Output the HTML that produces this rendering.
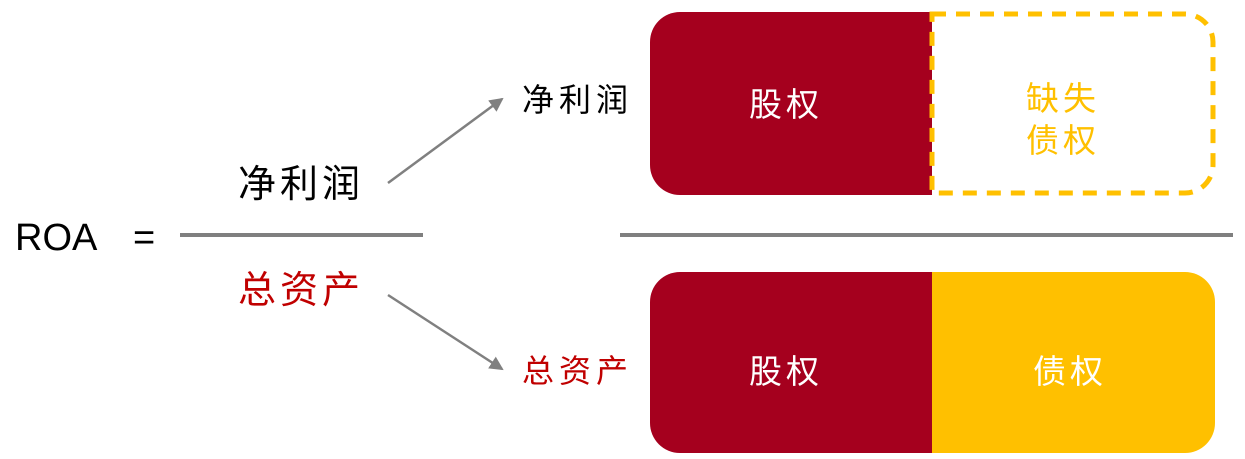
<!DOCTYPE html>
<html><head><meta charset="utf-8"><style>
body{margin:0;width:1245px;height:459px;background:#fff;overflow:hidden;position:relative;font-family:"Liberation Sans","Noto Sans CJK SC",sans-serif}
.t{position:absolute;white-space:nowrap;line-height:1}
</style></head><body>
<svg width="1245" height="459" style="position:absolute;left:0;top:0">
<defs><marker id="a" markerWidth="14" markerHeight="14" refX="12" refY="7" orient="auto" markerUnits="userSpaceOnUse"><path d="M0,0 L14,7 L0,14 z" fill="#808080"/></marker></defs>
<line x1="180" y1="235" x2="423" y2="235" stroke="#7f7f7f" stroke-width="4"/>
<line x1="620" y1="235" x2="1233" y2="235" stroke="#7f7f7f" stroke-width="4"/>
<line x1="388" y1="183" x2="502" y2="99" stroke="#808080" stroke-width="2.5" marker-end="url(#a)"/>
<line x1="388" y1="295" x2="502" y2="369" stroke="#808080" stroke-width="2.5" marker-end="url(#a)"/>
<path d="M680,12 H932 V195 H680 A30,30 0 0 1 650,165 V42 A30,30 0 0 1 680,12 Z" fill="#a5001e"/>
<path d="M932,14 H1185 A28,28 0 0 1 1213,42 V165 A28,28 0 0 1 1185,193 H932 Z" fill="none" stroke="#ffc000" stroke-width="5" stroke-dasharray="14,10"/>
<path d="M680,272 H932 V453 H680 A30,30 0 0 1 650,423 V302 A30,30 0 0 1 680,272 Z" fill="#a5001e"/>
<path d="M932,272 H1185 A30,30 0 0 1 1215,302 V423 A30,30 0 0 1 1185,453 H932 Z" fill="#ffc000"/>
</svg>
<div class="t" style="left:15px;top:219px;font-size:38px;color:#000">ROA</div>
<div class="t" style="left:133px;top:219px;font-size:38px;color:#000">=</div>
<div class="t" style="left:238px;top:166px;font-size:38px;color:#000;letter-spacing:4px">净利润</div>
<div class="t" style="left:238px;top:272px;font-size:38px;color:#c00000;letter-spacing:4px">总资产</div>
<div class="t" style="left:522px;top:84px;font-size:32px;color:#000;letter-spacing:5px">净利润</div>
<div class="t" style="left:522px;top:355px;font-size:32px;color:#c00000;letter-spacing:5px">总资产</div>
<div class="t" style="left:749px;top:88px;font-size:33px;color:#fff;letter-spacing:4px">股权</div>
<div class="t" style="left:1026px;top:78px;font-size:33px;color:#ffc000;letter-spacing:4px;line-height:42px">缺失<br>债权</div>
<div class="t" style="left:749px;top:355px;font-size:33px;color:#fff;letter-spacing:4px">股权</div>
<div class="t" style="left:1033px;top:355px;font-size:33px;color:#fff;letter-spacing:4px">债权</div>
</body></html>
